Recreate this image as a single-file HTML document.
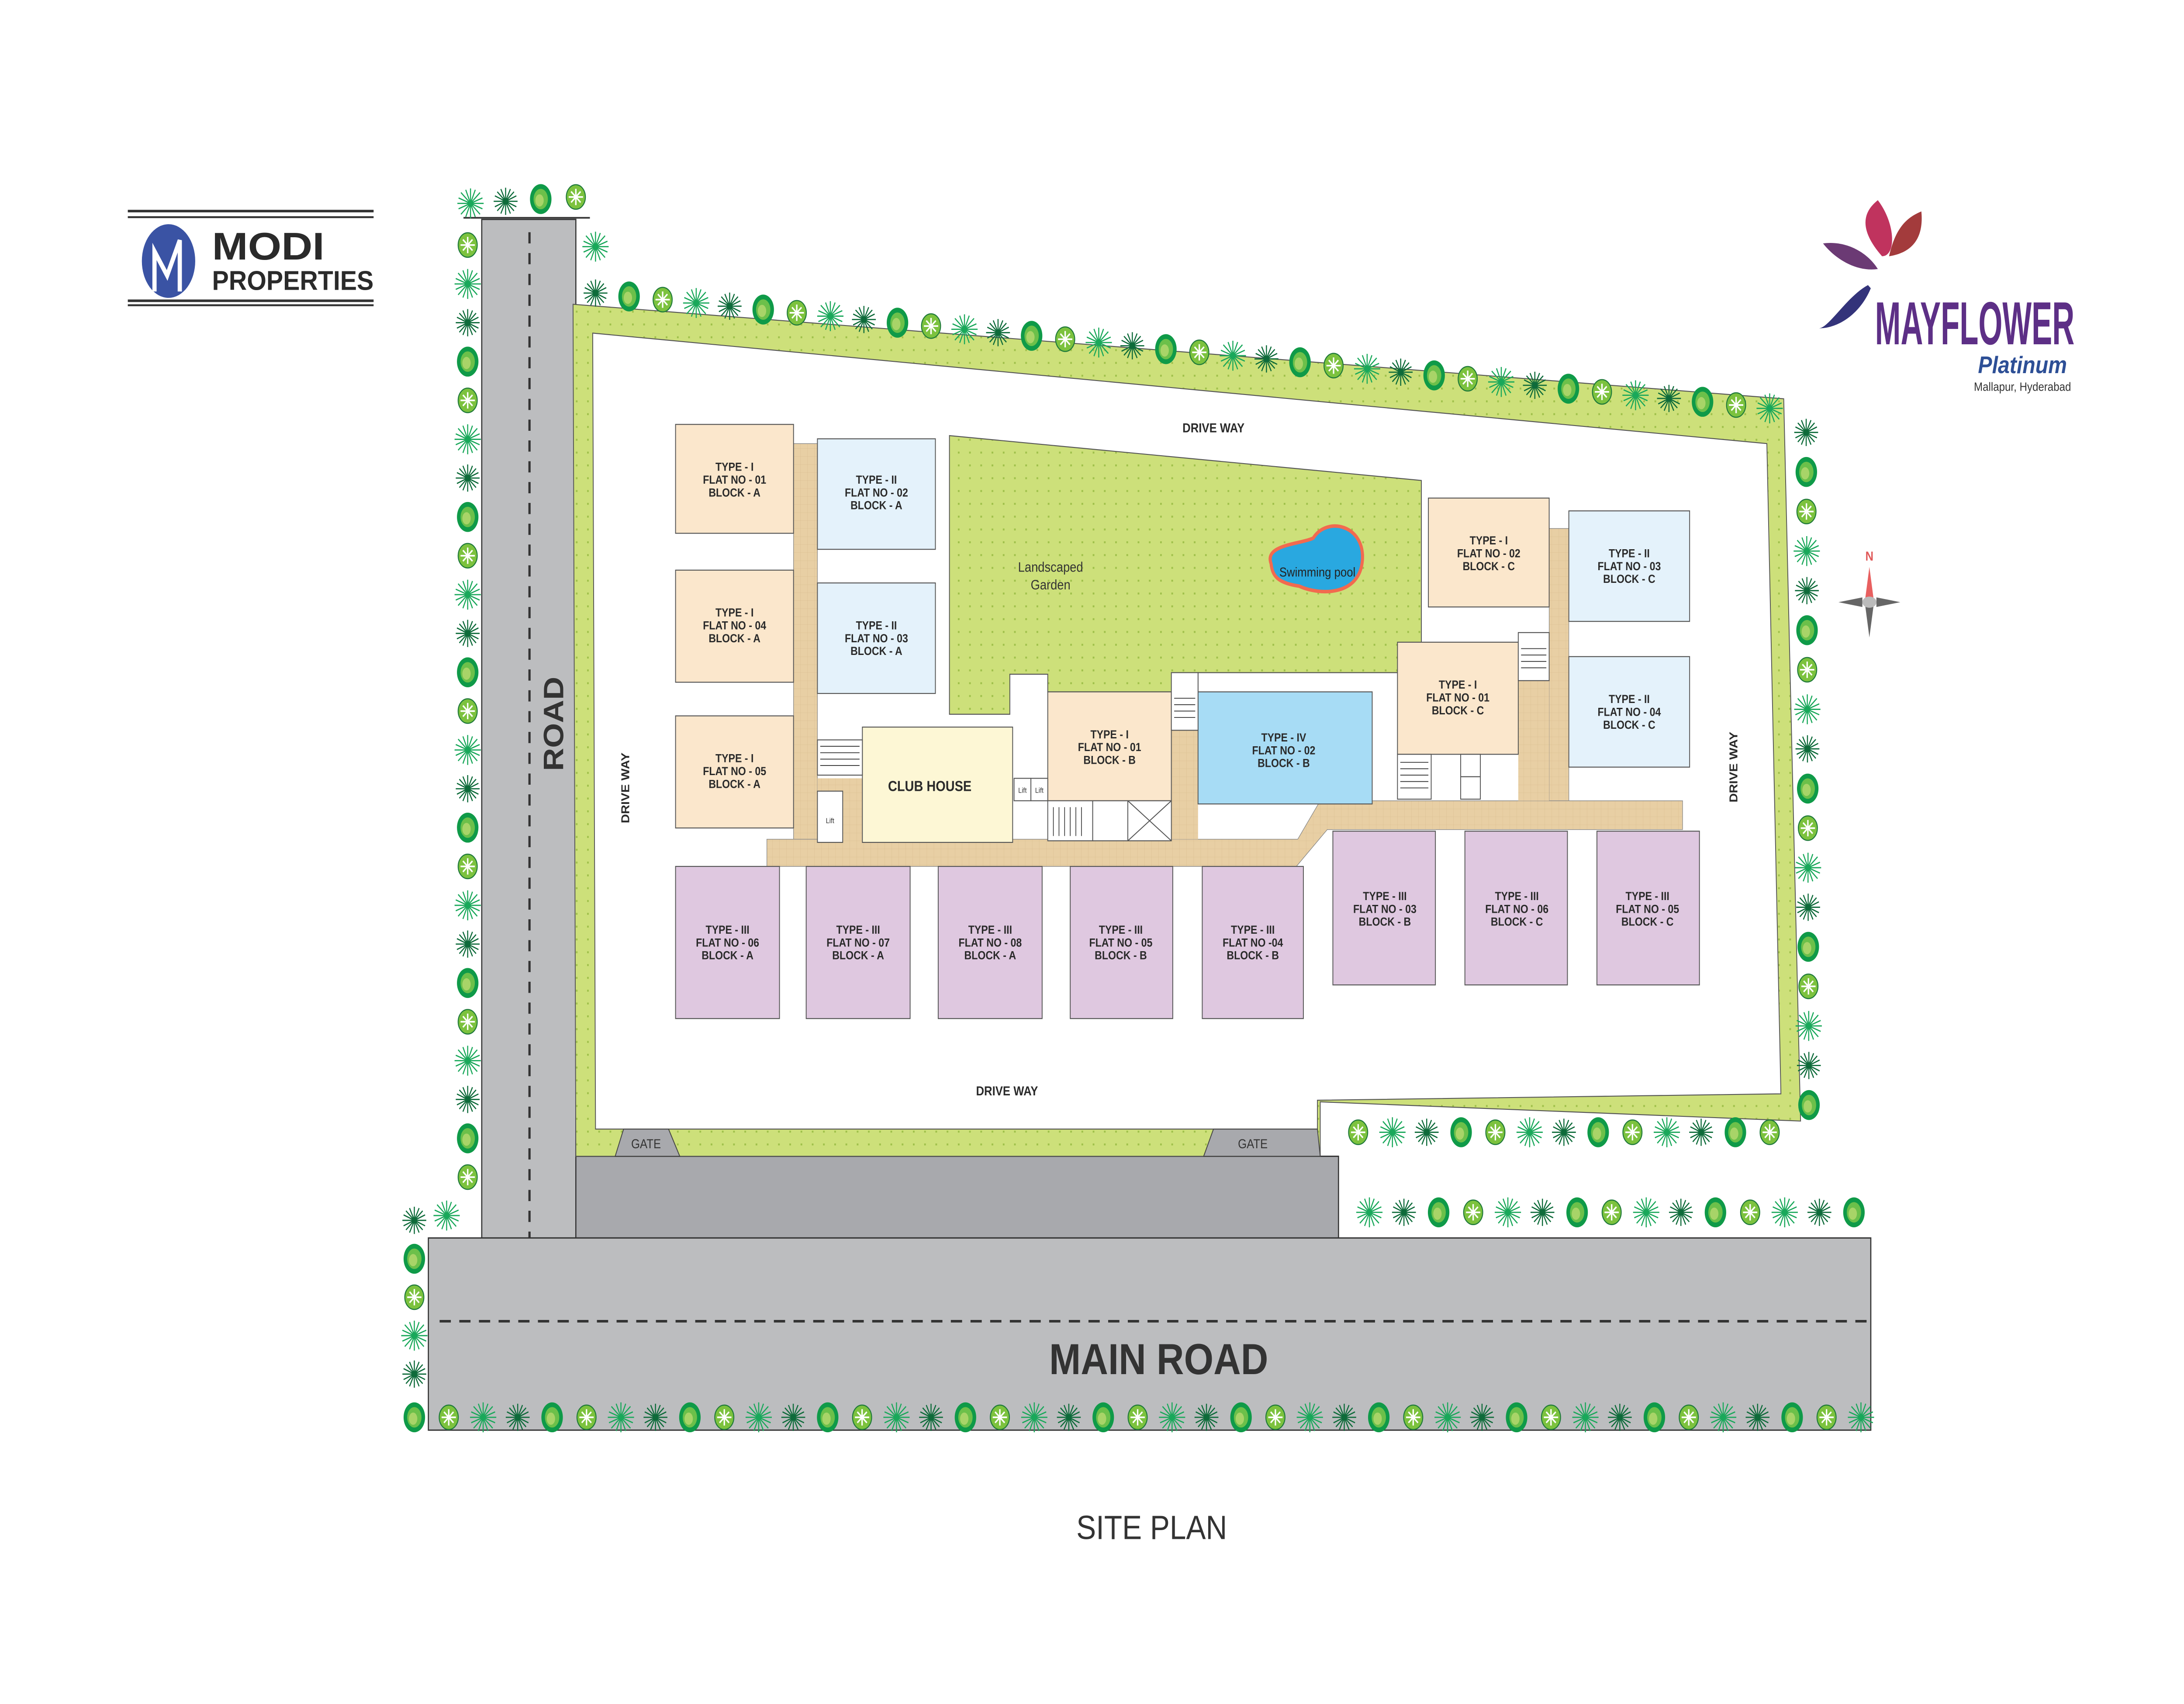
<!DOCTYPE html>
<html><head><meta charset="utf-8"><style>
html,body{margin:0;padding:0;background:#fff;width:100%;height:100%;overflow:hidden;}
#s{display:block;width:100vw;height:100vh;position:fixed;left:0;top:0}
text{font-family:"Liberation Sans",sans-serif;}
.lb{font-size:7.2px;font-weight:bold;fill:#2a2a2a;text-anchor:middle}
</style></head><body>
<svg id="s" viewBox="0 0 1555 1064" preserveAspectRatio="none" xmlns="http://www.w3.org/2000/svg" xmlns:xlink="http://www.w3.org/1999/xlink">
<defs>
<pattern id="gp" width="8" height="8" patternUnits="userSpaceOnUse"><rect width="8" height="8" fill="#cde07a"/><rect x="2" y="2" width="1.2" height="1.2" fill="#9fc04a"/></pattern>
<pattern id="tp" width="5" height="5" patternUnits="userSpaceOnUse"><rect width="5" height="5" fill="#e8cfa4"/><path d="M0 0H5V5" fill="none" stroke="#d9bd8f" stroke-width="0.3"/></pattern>
<g id="t1"><ellipse rx="9" ry="11" fill="#0f9a48"/><ellipse rx="6" ry="7.5" fill="#6cc04a"/><ellipse cx="-1" cy="1" rx="3.5" ry="4.5" fill="#a8d468"/></g>
<g id="t2"><ellipse rx="8" ry="9" fill="#7cc23e" stroke="#1f7a3a" stroke-width="0.8"/><path d="M0-6V6M-6 0H6M-4-4L4 4M-4 4L4-4" stroke="#fff" stroke-width="1.2"/></g>
<g id="t3" fill="none" stroke="#19a85a" stroke-width="0.9"><path d="M0-11V11M-11 0H11M-8-8L8 8M-8 8L8-8M-4-10L4 10M-10-4L10 4M4-10L-4 10M10-4L-10 4"/></g>
<g id="t4" fill="none" stroke="#0e6b3a" stroke-width="0.9"><path d="M0-10V10M-10 0H10M-7-7L7 7M-7 7L7-7M-4-9L4 9M-9-4L9 4M4-9L-4 9M9-4L-9 4"/></g>
</defs>
<rect width="1555" height="1064" fill="#fff"/>
<rect x="343" y="137" width="67" height="636" fill="#bcbdbf" stroke="#333" stroke-width="0.8"/>
<line x1="377" y1="145" x2="377" y2="773" stroke="#333" stroke-width="1.6" stroke-dasharray="7,6"/>
<line x1="330" y1="136" x2="420" y2="136" stroke="#333" stroke-width="1"/>
<rect x="410" y="722" width="543" height="51" fill="#a8a9ad" stroke="#333" stroke-width="0.8"/>
<rect x="305" y="773" width="1027" height="120" fill="#bcbdbf" stroke="#333" stroke-width="0.8"/>
<line x1="313" y1="825" x2="1332" y2="825" stroke="#333" stroke-width="1.6" stroke-dasharray="8,6"/>
<text x="825" y="858" font-size="27" font-weight="bold" fill="#333" text-anchor="middle">MAIN ROAD</text>
<text x="401" y="452" font-size="20" font-weight="bold" fill="#333" text-anchor="middle" transform="rotate(-90 401 452)">ROAD</text>
<polygon points="408,190 1270,249 1282,700 940,688 940,722 410,722" fill="url(#gp)" stroke="#555" stroke-width="0.6"/>
<polygon points="422,208 1258,277 1268,683 938,687 938,705 424,705" fill="#fff" stroke="#555" stroke-width="0.6"/>
<path d="M438,722 L444,705 L476,705 L484,722Z" fill="#a8a9ad" stroke="#444" stroke-width="0.6"/>
<path d="M857,722 L864,705 L938,705 L940,722Z" fill="#a8a9ad" stroke="#444" stroke-width="0.6"/>
<text x="460" y="717" font-size="8" fill="#333" text-anchor="middle">GATE</text>
<text x="892" y="717" font-size="8" fill="#333" text-anchor="middle">GATE</text>
<text x="864" y="270" class="lb" style="font-size:8px">DRIVE WAY</text>
<text x="717" y="684" class="lb" style="font-size:8px">DRIVE WAY</text>
<text x="448" y="492" class="lb" style="font-size:8px" transform="rotate(-90 448 492)">DRIVE WAY</text>
<text x="1237" y="479" class="lb" style="font-size:8px" transform="rotate(-90 1237 479)">DRIVE WAY</text>
<polygon points="676,272 1012,300 1012,420 853,420 853,432 746,432 746,421 719,421 719,446 676,446" fill="url(#gp)" stroke="#555" stroke-width="0.6"/>
<text x="748" y="357" font-size="8.5" fill="#333" text-anchor="middle">Landscaped</text>
<text x="748" y="368" font-size="8.5" fill="#333" text-anchor="middle">Garden</text>
<path d="M905,352 C900,340 925,340 935,336 C945,322 972,328 970,350 C968,372 940,372 925,366 C910,364 906,360 905,352Z" fill="#29a8e0" stroke="#f26a4f" stroke-width="2.2"/>
<text x="938" y="360" font-size="8" fill="#222" text-anchor="middle">Swimming pool</text>
<rect x="565" y="277" width="17" height="250" fill="url(#tp)" stroke="#888" stroke-width="0.4"/>
<rect x="1103" y="330" width="14" height="172" fill="url(#tp)" stroke="#888" stroke-width="0.4"/>
<polygon points="546,524 924,524 940,500 1198,500 1198,518 945,518 923,541 546,541" fill="url(#tp)" stroke="#888" stroke-width="0.4"/>
<rect x="834" y="456" width="19" height="68" fill="url(#tp)"/>
<rect x="582" y="486" width="32" height="40" fill="url(#tp)"/>
<rect x="1081" y="425" width="22" height="75" fill="url(#tp)"/>
<g stroke="#555" stroke-width="0.6">
<rect x="481" y="265" width="84" height="68" fill="#fbe7cc"/>
<rect x="481" y="356" width="84" height="70" fill="#fbe7cc"/>
<rect x="481" y="447" width="84" height="70" fill="#fbe7cc"/>
<rect x="582" y="274" width="84" height="69" fill="#e4f2fb"/>
<rect x="582" y="364" width="84" height="69" fill="#e4f2fb"/>
<rect x="614" y="454" width="107" height="72" fill="#fdf7d5"/>
<rect x="746" y="432" width="88" height="68" fill="#fbe7cc"/>
<rect x="853" y="432" width="124" height="70" fill="#a7dcf5"/>
<rect x="1017" y="311" width="86" height="68" fill="#fbe7cc"/>
<rect x="1117" y="319" width="86" height="69" fill="#e4f2fb"/>
<rect x="995" y="401" width="86" height="70" fill="#fbe7cc"/>
<rect x="1117" y="410" width="86" height="69" fill="#e4f2fb"/>
<rect x="582" y="462" width="32" height="22" fill="#fff"/>
<rect x="582" y="494" width="18" height="32" fill="#fff"/>
<rect x="722" y="486" width="12" height="14" fill="#fff"/><rect x="734" y="486" width="12" height="14" fill="#fff"/>
<rect x="746" y="500" width="32" height="25" fill="#fff"/><rect x="778" y="500" width="25" height="25" fill="#fff"/><rect x="803" y="500" width="31" height="25" fill="#fff"/>
<path d="M803,500 L834,525 M834,500 L803,525" fill="none"/>
<rect x="834" y="420" width="19" height="36" fill="#fff"/>
<rect x="1081" y="395" width="22" height="30" fill="#fff"/>
<rect x="995" y="471" width="24" height="28" fill="#fff"/>
<rect x="1040" y="471" width="14" height="14" fill="#fff"/><rect x="1040" y="485" width="14" height="14" fill="#fff"/>
</g>
<g stroke="#333" stroke-width="0.5">
<path d="M584,466H612M584,470H612M584,474H612M584,478H612M750,504V522M754,504V522M758,504V522M762,504V522M766,504V522M770,504V522M836,436H851M836,440H851M836,444H851M836,448H851M1083,405H1101M1083,409H1101M1083,413H1101M1083,417H1101M997,476H1017M997,480H1017M997,484H1017M997,488H1017M997,492H1017"/>
</g>
<text x="591" y="514" font-size="4.5" fill="#333" text-anchor="middle">Lift</text>
<text x="728" y="495" font-size="4.5" fill="#333" text-anchor="middle">Lift</text>
<text x="740" y="495" font-size="4.5" fill="#333" text-anchor="middle">Lift</text>
<text x="662" y="494" class="lb" style="font-size:9px">CLUB HOUSE</text>
<g stroke="#555" stroke-width="0.6" fill="#dfc8e0">
<rect x="481" y="541" width="74" height="95"/><rect x="574" y="541" width="74" height="95"/><rect x="668" y="541" width="74" height="95"/><rect x="762" y="541" width="73" height="95"/><rect x="856" y="541" width="72" height="95"/>
<rect x="949" y="519" width="73" height="96"/><rect x="1043" y="519" width="73" height="96"/><rect x="1137" y="519" width="73" height="96"/>
</g>
<g>
<text x="523" y="294" class="lb">TYPE - I</text><text x="523" y="302" class="lb">FLAT NO - 01</text><text x="523" y="310" class="lb">BLOCK - A</text>
<text x="523" y="385" class="lb">TYPE - I</text><text x="523" y="393" class="lb">FLAT NO - 04</text><text x="523" y="401" class="lb">BLOCK - A</text>
<text x="523" y="476" class="lb">TYPE - I</text><text x="523" y="484" class="lb">FLAT NO - 05</text><text x="523" y="492" class="lb">BLOCK - A</text>
<text x="624" y="302" class="lb">TYPE - II</text><text x="624" y="310" class="lb">FLAT NO - 02</text><text x="624" y="318" class="lb">BLOCK - A</text>
<text x="624" y="393" class="lb">TYPE - II</text><text x="624" y="401" class="lb">FLAT NO - 03</text><text x="624" y="409" class="lb">BLOCK - A</text>
<text x="790" y="461" class="lb">TYPE - I</text><text x="790" y="469" class="lb">FLAT NO - 01</text><text x="790" y="477" class="lb">BLOCK - B</text>
<text x="914" y="463" class="lb">TYPE - IV</text><text x="914" y="471" class="lb">FLAT NO - 02</text><text x="914" y="479" class="lb">BLOCK - B</text>
<text x="1060" y="340" class="lb">TYPE - I</text><text x="1060" y="348" class="lb">FLAT NO - 02</text><text x="1060" y="356" class="lb">BLOCK - C</text>
<text x="1160" y="348" class="lb">TYPE - II</text><text x="1160" y="356" class="lb">FLAT NO - 03</text><text x="1160" y="364" class="lb">BLOCK - C</text>
<text x="1038" y="430" class="lb">TYPE - I</text><text x="1038" y="438" class="lb">FLAT NO - 01</text><text x="1038" y="446" class="lb">BLOCK - C</text>
<text x="1160" y="439" class="lb">TYPE - II</text><text x="1160" y="447" class="lb">FLAT NO - 04</text><text x="1160" y="455" class="lb">BLOCK - C</text>
<text x="518" y="583" class="lb">TYPE - III</text><text x="518" y="591" class="lb">FLAT NO - 06</text><text x="518" y="599" class="lb">BLOCK - A</text>
<text x="611" y="583" class="lb">TYPE - III</text><text x="611" y="591" class="lb">FLAT NO - 07</text><text x="611" y="599" class="lb">BLOCK - A</text>
<text x="705" y="583" class="lb">TYPE - III</text><text x="705" y="591" class="lb">FLAT NO - 08</text><text x="705" y="599" class="lb">BLOCK - A</text>
<text x="798" y="583" class="lb">TYPE - III</text><text x="798" y="591" class="lb">FLAT NO - 05</text><text x="798" y="599" class="lb">BLOCK - B</text>
<text x="892" y="583" class="lb">TYPE - III</text><text x="892" y="591" class="lb">FLAT NO -04</text><text x="892" y="599" class="lb">BLOCK - B</text>
<text x="986" y="562" class="lb">TYPE - III</text><text x="986" y="570" class="lb">FLAT NO - 03</text><text x="986" y="578" class="lb">BLOCK - B</text>
<text x="1080" y="562" class="lb">TYPE - III</text><text x="1080" y="570" class="lb">FLAT NO - 06</text><text x="1080" y="578" class="lb">BLOCK - C</text>
<text x="1173" y="562" class="lb">TYPE - III</text><text x="1173" y="570" class="lb">FLAT NO - 05</text><text x="1173" y="578" class="lb">BLOCK - C</text>
</g>
<g id="trees"></g>
<rect x="91" y="131" width="175" height="1.6" fill="#333"/><rect x="91" y="135" width="175" height="1.2" fill="#333"/>
<rect x="91" y="187" width="175" height="1.6" fill="#333"/><rect x="91" y="190" width="175" height="1.2" fill="#333"/>
<ellipse cx="120" cy="163" rx="19" ry="23" fill="#3a53a4"/>
<path d="M110,182 L110,157 L119,172 L128,150 L128,182" fill="none" stroke="#fff" stroke-width="3"/>
<text x="151" y="162" font-size="24" font-weight="bold" font-family="Liberation Serif,serif" fill="#2a2a2a" textLength="80" lengthAdjust="spacingAndGlyphs">MODI</text>
<text x="151" y="181" font-size="17" font-weight="bold" fill="#2a2a2a" textLength="115" lengthAdjust="spacingAndGlyphs">PROPERTIES</text>
<path d="M1340,160 C1320,140 1330,130 1337,125 C1350,140 1350,160 1340,160Z" fill="#c0335e"/>
<path d="M1345,160 C1350,140 1360,135 1368,132 C1370,150 1360,158 1345,160Z" fill="#a33b3c"/>
<path d="M1337,168 C1320,170 1305,160 1298,152 C1315,150 1330,158 1337,168Z" fill="#6b3a74"/>
<path d="M1330,178 C1315,185 1302,205 1295,205 C1310,205 1325,195 1332,180Z" fill="#33337a"/>
<text x="1335" y="215" font-size="38" font-weight="bold" font-family="Liberation Serif,serif" fill="#5d2f86" textLength="142" lengthAdjust="spacingAndGlyphs">MAYFLOWER</text>
<text x="1440" y="233" font-size="15" font-style="italic" font-weight="bold" font-family="Liberation Serif,serif" fill="#2d4f96" text-anchor="middle">Platinum</text>
<text x="1440" y="244" font-size="7.5" fill="#333" text-anchor="middle">Mallapur, Hyderabad</text>
<text x="1331" y="350" font-size="8" font-weight="bold" fill="#e05a5a" text-anchor="middle">N</text>
<polygon points="1331,354 1334,374 1328,374" fill="#e86060"/>
<polygon points="1331,398 1334,378 1328,378" fill="#666"/>
<polygon points="1309,376 1326,373 1326,379" fill="#666"/>
<polygon points="1353,376 1336,373 1336,379" fill="#666"/>
<ellipse cx="1331" cy="376" rx="5" ry="3.5" fill="#bbb"/>
<text x="820" y="961" font-size="21" fill="#333" text-anchor="middle">SITE PLAN</text>
</svg>
<script>
(function(){
var g=document.getElementById('trees'),seq=['t3','t4','t1','t2'],k=0;
function put(x,y){var u=document.createElementNS('http://www.w3.org/2000/svg','use');u.setAttribute('href','#'+seq[k%4]);u.setAttributeNS('http://www.w3.org/1999/xlink','xlink:href','#'+seq[k%4]);u.setAttribute('transform','translate('+x.toFixed(1)+','+y.toFixed(1)+') scale(0.85)');g.appendChild(u);k++;}
function line(x1,y1,x2,y2,n){for(var i=0;i<n;i++){var t=n>1?i/(n-1):0;put(x1+(x2-x1)*t,y1+(y2-y1)*t);}}
line(335,127,410,123,4);put(424,154);
line(424,183,1260,255,36);
line(1286,270,1288,690,18);
line(967,707,1260,707,13);
line(975,757,1320,757,15);
line(333,153,333,735,25);
put(318,759);
line(295,762,295,858,5);
line(295,885,1325,885,43);
})();
</script>
</body></html>
